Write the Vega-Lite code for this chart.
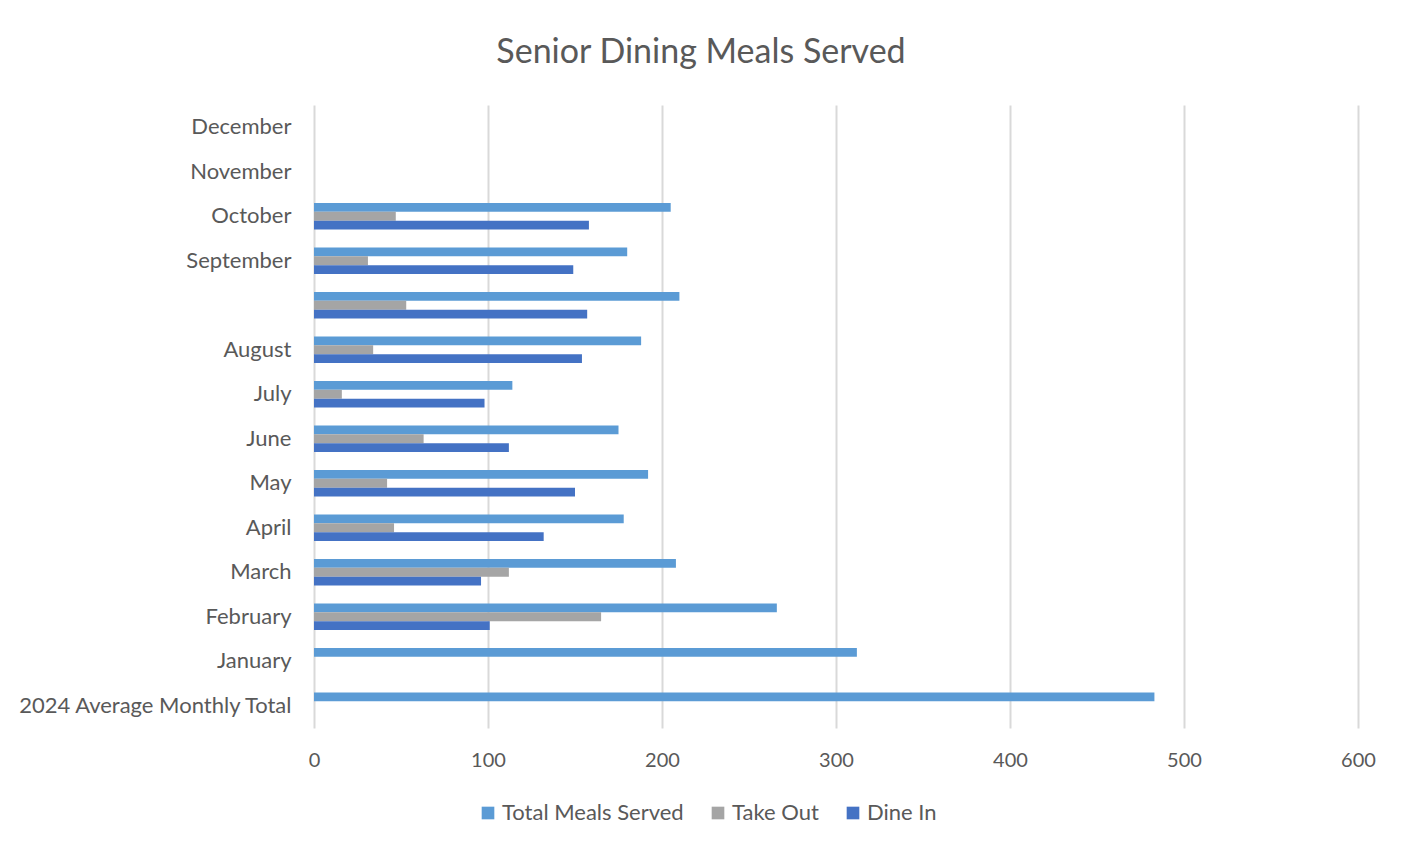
{
  "$schema": "https://vega.github.io/schema/vega-lite/v6.json",
  "autosize": {"type": "none"},
  "padding": {"left": 314, "top": 105, "right": 43, "bottom": 120},
  "width": 1044,
  "height": 623,
  "background": "white",
  "title": {
    "text": "Senior Dining Meals Served",
    "font": "Lato",
    "fontSize": 34,
    "fontWeight": "normal",
    "color": "#595959",
    "anchor": "middle",
    "dx": -135,
    "offset": 35
  },
  "data": {
    "values": [
      {"month": "October", "series": "Total Meals Served", "value": 205},
      {"month": "October", "series": "Take Out", "value": 47},
      {"month": "October", "series": "Dine In", "value": 158},
      {"month": "September", "series": "Total Meals Served", "value": 180},
      {"month": "September", "series": "Take Out", "value": 31},
      {"month": "September", "series": "Dine In", "value": 149},
      {"month": " ", "series": "Total Meals Served", "value": 210},
      {"month": " ", "series": "Take Out", "value": 53},
      {"month": " ", "series": "Dine In", "value": 157},
      {"month": "August", "series": "Total Meals Served", "value": 188},
      {"month": "August", "series": "Take Out", "value": 34},
      {"month": "August", "series": "Dine In", "value": 154},
      {"month": "July", "series": "Total Meals Served", "value": 114},
      {"month": "July", "series": "Take Out", "value": 16},
      {"month": "July", "series": "Dine In", "value": 98},
      {"month": "June", "series": "Total Meals Served", "value": 175},
      {"month": "June", "series": "Take Out", "value": 63},
      {"month": "June", "series": "Dine In", "value": 112},
      {"month": "May", "series": "Total Meals Served", "value": 192},
      {"month": "May", "series": "Take Out", "value": 42},
      {"month": "May", "series": "Dine In", "value": 150},
      {"month": "April", "series": "Total Meals Served", "value": 178},
      {"month": "April", "series": "Take Out", "value": 46},
      {"month": "April", "series": "Dine In", "value": 132},
      {"month": "March", "series": "Total Meals Served", "value": 208},
      {"month": "March", "series": "Take Out", "value": 112},
      {"month": "March", "series": "Dine In", "value": 96},
      {"month": "February", "series": "Total Meals Served", "value": 266},
      {"month": "February", "series": "Take Out", "value": 165},
      {"month": "February", "series": "Dine In", "value": 101},
      {"month": "January", "series": "Total Meals Served", "value": 312},
      {"month": "2024 Average Monthly Total", "series": "Total Meals Served", "value": 483}
    ]
  },
  "mark": {"type": "bar"},
  "encoding": {
    "y": {
      "field": "month",
      "type": "nominal",
      "title": null,
      "scale": {
        "domain": ["December", "November", "October", "September", " ", "August", "July", "June", "May", "April", "March", "February", "January", "2024 Average Monthly Total"],
        "paddingInner": 0.4,
        "paddingOuter": 0.2
      },
      "axis": {
        "ticks": false,
        "domain": false,
        "labelFont": "Lato",
        "labelFontSize": 22,
        "labelColor": "#595959",
        "labelPadding": 23,
        "labelLimit": 320
      }
    },
    "yOffset": {
      "field": "series",
      "type": "nominal",
      "sort": ["Total Meals Served", "Take Out", "Dine In"],
      "scale": {"paddingInner": 0, "paddingOuter": 0}
    },
    "x": {
      "field": "value",
      "type": "quantitative",
      "title": null,
      "scale": {"domain": [0, 600], "nice": false},
      "axis": {
        "values": [0, 100, 200, 300, 400, 500, 600],
        "ticks": false,
        "domain": false,
        "labelFlush": false,
        "gridColor": "#D9D9D9",
        "gridWidth": 2,
        "labelFont": "Lato",
        "labelFontSize": 20,
        "labelColor": "#595959",
        "labelPadding": 22
      }
    },
    "color": {
      "field": "series",
      "type": "nominal",
      "sort": ["Total Meals Served", "Take Out", "Dine In"],
      "scale": {
        "domain": ["Total Meals Served", "Take Out", "Dine In"],
        "range": ["#5B9BD5", "#A5A5A5", "#4472C4"]
      },
      "legend": {
        "title": null,
        "orient": "none",
        "direction": "horizontal",
        "legendX": 163,
        "legendY": 697,
        "padding": 0,
        "symbolType": "square",
        "symbolSize": 160,
        "symbolStrokeWidth": 0,
        "symbolOpacity": 1,
        "labelFont": "Lato",
        "labelFontSize": 22,
        "labelLimit": 300,
        "labelColor": "#595959",
        "labelOffset": 3,
        "columnPadding": 23
      }
    }
  },
  "config": {
    "view": {"stroke": null}
  }
}
